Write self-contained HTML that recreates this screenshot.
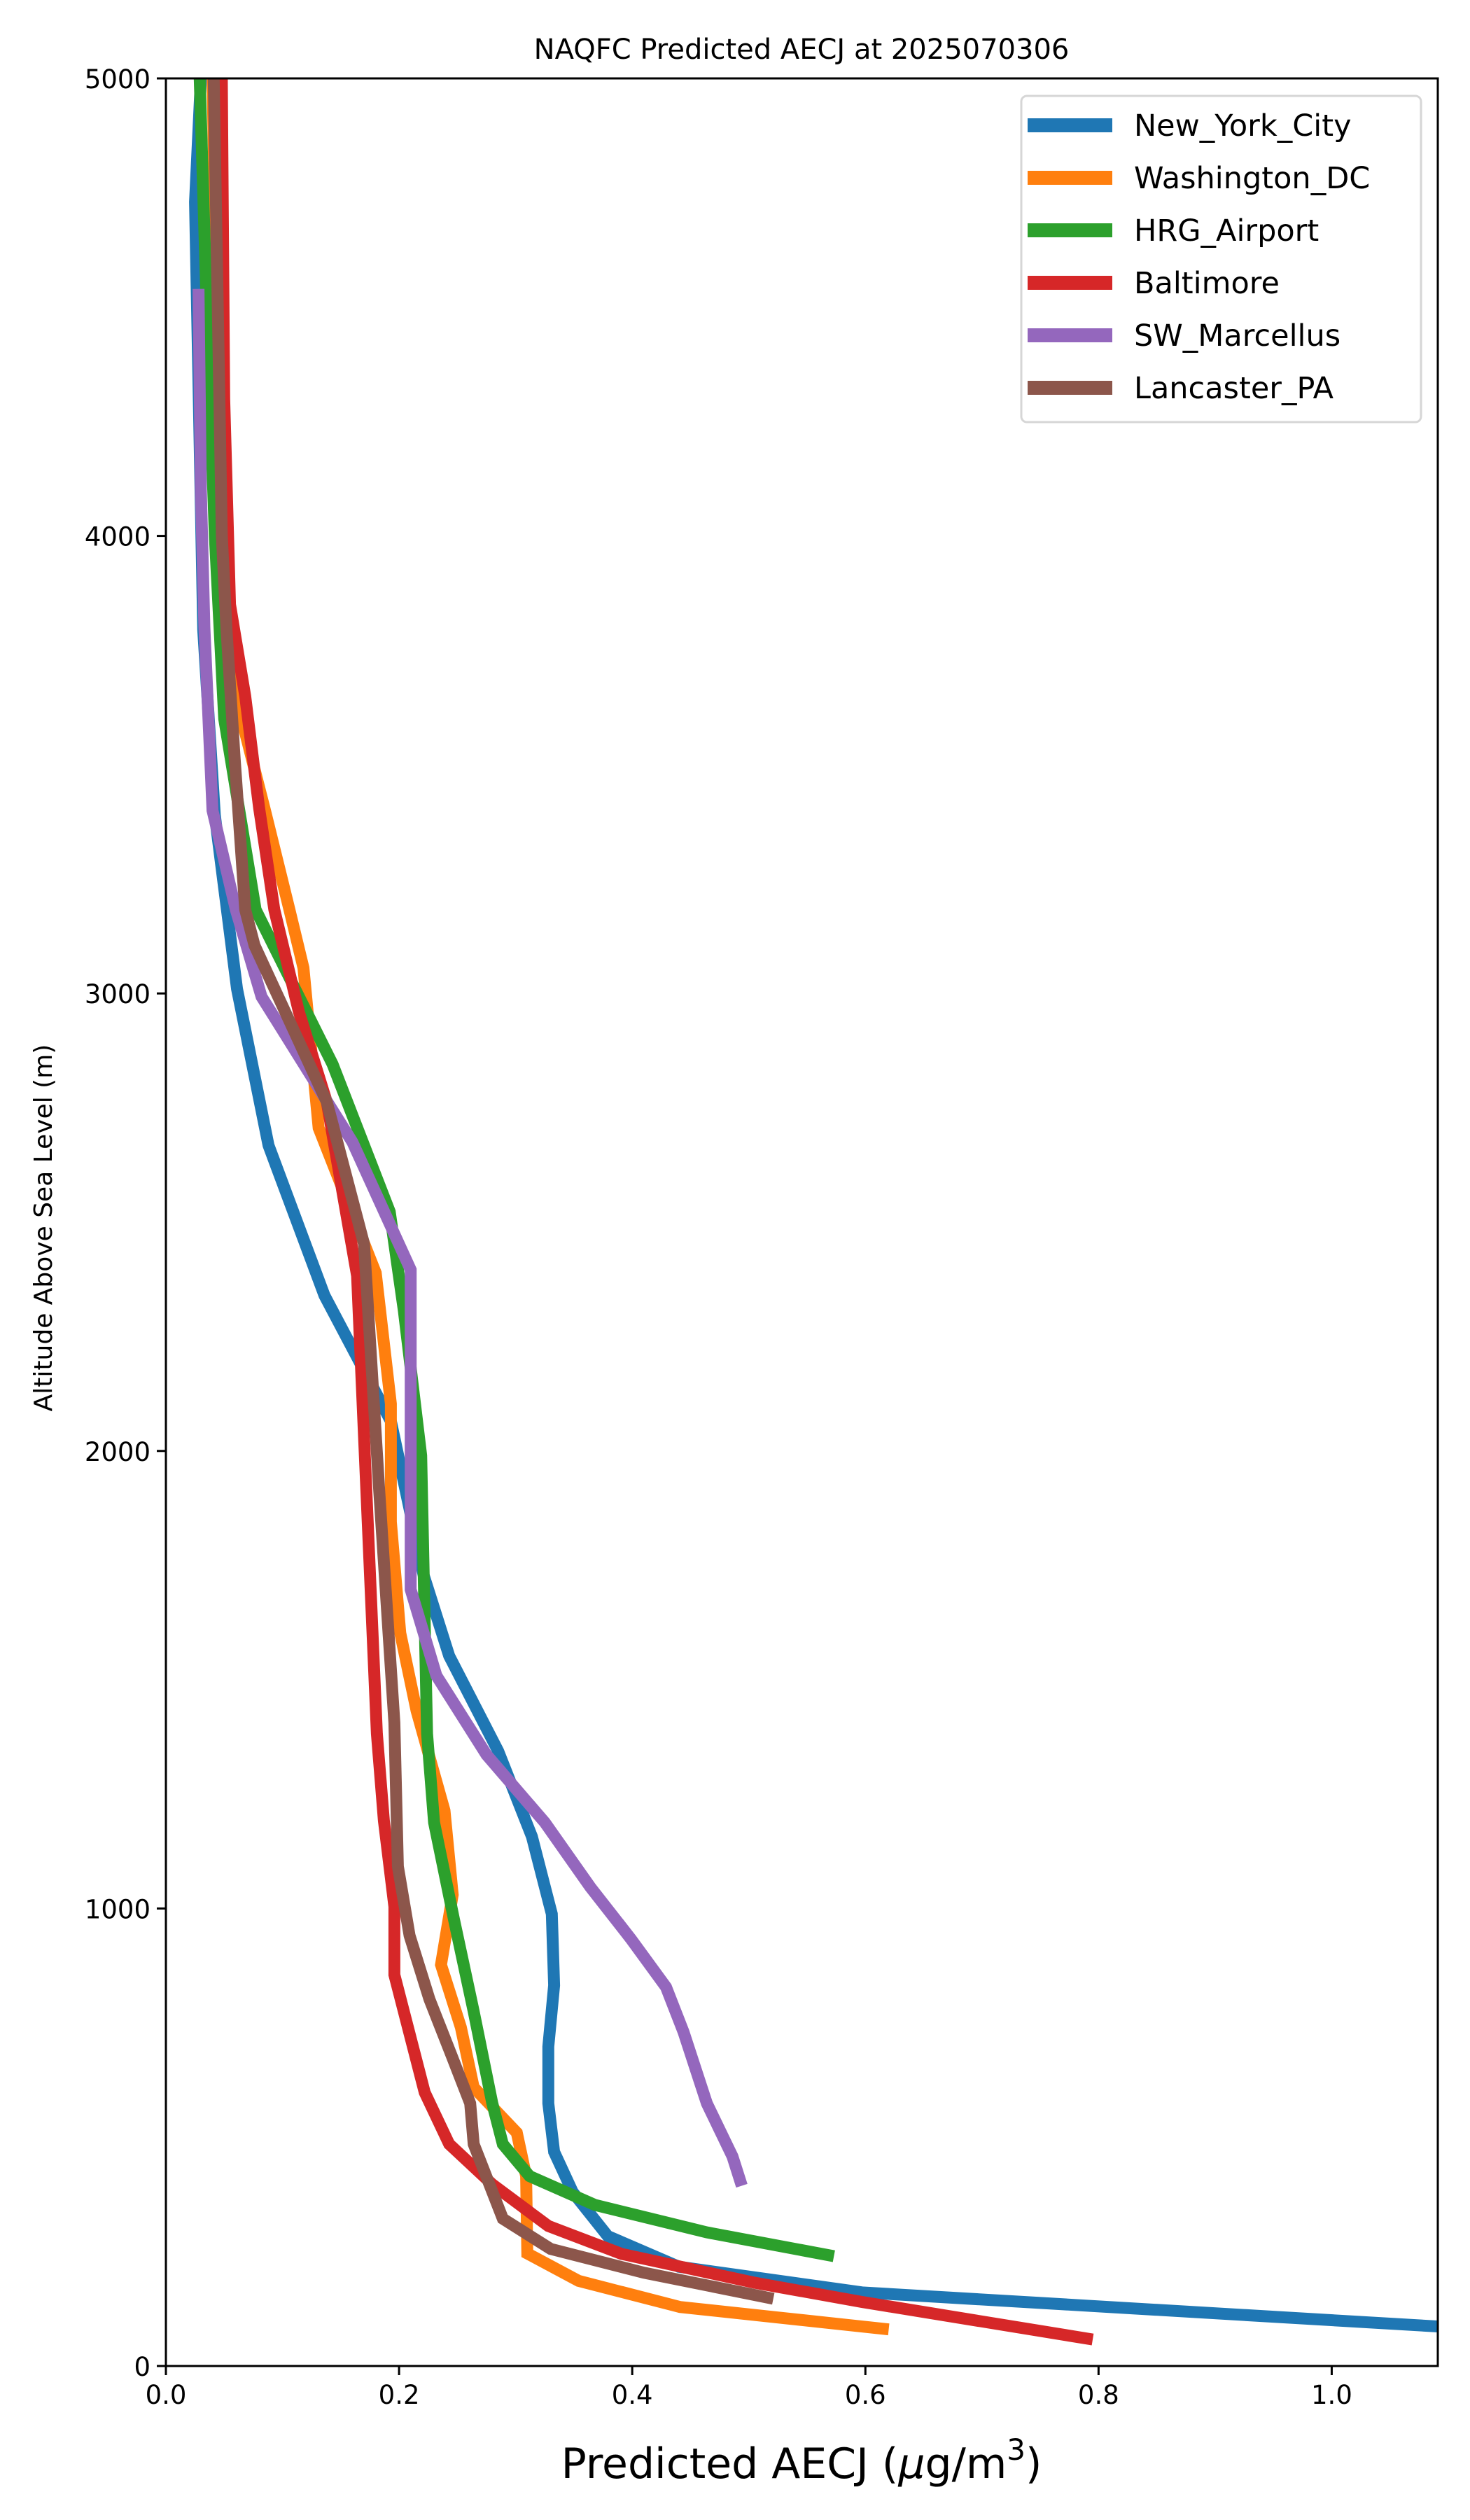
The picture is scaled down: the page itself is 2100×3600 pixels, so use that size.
<!DOCTYPE html>
<html><head><meta charset="utf-8"><style>
html,body{margin:0;padding:0;background:#fff;}
svg{display:block;font-family:"DejaVu Sans","Liberation Sans",sans-serif;}
</style></head><body>
<svg id="chart" width="2100" height="3600" viewBox="0 0 2100 3600" xmlns="http://www.w3.org/2000/svg">
<rect width="2100" height="3600" fill="#fff"/>
<defs><clipPath id="plotclip"><rect x="237" y="112" width="1817" height="3268"/></clipPath></defs>
<text x="1145" y="84" text-anchor="middle" font-size="40">NAQFC Predicted AECJ at 2025070306</text>
<g id="series" clip-path="url(#plotclip)"></g>
<g id="axes"></g>
<text x="1145" y="3540" text-anchor="middle" font-size="60">Predicted AECJ (<tspan font-style="italic">μ</tspan>g/m<tspan font-size="42" dy="-26">3</tspan><tspan dy="26">)</tspan></text>
<text x="0" y="0" transform="translate(74,1754) rotate(-90)" text-anchor="middle" font-size="36">Altitude Above Sea Level (m)</text>
<g id="legend"></g>
</svg>
<script>
const seriesNames = ["New_York_City","Washington_DC","HRG_Airport","Baltimore","SW_Marcellus","Lancaster_PA"];
const seriesColors = ["#1f77b4","#ff7f0e","#2ca02c","#d62728","#9467bd","#8c564b"];
const nycX = [0.030,0.025,0.032,0.042,0.061,0.088,0.136,0.193,0.221,0.243,0.285,0.314,0.331,0.333,0.328,0.328,0.333,0.349,0.379,0.440,0.597,1.12];
const nycY = [5000,4730,3795,3390,3010,2668,2340,2065,1729,1552,1344,1157,988,832,698,574,468,380,284,217,161,82];
const dcX = [0.040,0.045,0.050,0.065,0.085,0.106,0.118,0.131,0.180,0.193,0.193,0.201,0.215,0.239,0.246,0.236,0.253,0.264,0.301,0.309,0.310,0.354,0.441,0.620];
const dcY = [5000,4300,3900,3600,3400,3183,3056,2706,2389,2103,1845,1602,1432,1214,1030,877,740,609,510,415,246,186,129,80];
const hrgX = [0.029,0.035,0.042,0.050,0.077,0.143,0.192,0.204,0.219,0.224,0.230,0.247,0.264,0.280,0.289,0.312,0.368,0.464,0.573];
const hrgY = [5000,4500,4000,3600,3183,2845,2523,2308,1990,1382,1188,977,775,574,485,415,352,292,240];
const balX = [0.048,0.050,0.055,0.068,0.080,0.093,0.114,0.138,0.164,0.181,0.187,0.196,0.196,0.222,0.243,0.280,0.328,0.391,0.505,0.597,0.795];
const balY = [5000,4300,3850,3650,3405,3183,2960,2763,2383,1382,1192,1004,855,598,485,397,306,245,182,140,58];
const swmX = [0.028,0.030,0.033,0.040,0.060,0.082,0.160,0.210,0.210,0.210,0.232,0.275,0.325,0.364,0.399,0.429,0.444,0.464,0.486,0.494];
const swmY = [4540,4100,3800,3400,3183,2993,2675,2396,2141,1697,1509,1336,1188,1047,933,828,730,574,458,394];
const lanX = [0.041,0.048,0.052,0.059,0.068,0.076,0.138,0.170,0.183,0.196,0.199,0.209,0.226,0.245,0.261,0.264,0.289,0.330,0.410,0.521];
const lanY = [5000,4000,3795,3512,3183,3105,2763,2452,1912,1406,1092,941,802,679,574,485,322,256,204,147];
const xTicks = [0.0,0.2,0.4,0.6,0.8,1.0];
const xTickLabels = ["0.0","0.2","0.4","0.6","0.8","1.0"];
const yTicks = [0,1000,2000,3000,4000,5000];
const yTickLabels = ["0","1000","2000","3000","4000","5000"];

const NS="http://www.w3.org/2000/svg";
const L=237,R=2054,T=112,B=3380,XMAX=1.091,YMAX=5000;
function sx(v){return L+(v/XMAX)*(R-L);}
function sy(v){return B-(v/YMAX)*(B-T);}
function mk(tag,attrs,parent){const e=document.createElementNS(NS,tag);for(const k in attrs)e.setAttribute(k,attrs[k]);parent.appendChild(e);return e;}

const allX=[nycX,dcX,hrgX,balX,swmX,lanX], allY=[nycY,dcY,hrgY,balY,swmY,lanY];
const sg=document.getElementById('series');
const slug=["new-york-city","washington-dc","hrg-airport","baltimore","sw-marcellus","lancaster-pa"];
for(let i=0;i<6;i++){
  const pts=allX[i].map((x,j)=>sx(x).toFixed(1)+","+sy(allY[i][j]).toFixed(1)).join(" ");
  const p=mk('polyline',{points:pts,fill:"none",stroke:seriesColors[i],"stroke-width":17,"stroke-linejoin":"miter","stroke-miterlimit":2},sg);
  
  
}
const ax=document.getElementById('axes');
const frame=mk('rect',{x:L,y:T,width:R-L,height:B-T,fill:"none",stroke:"#000","stroke-width":3},ax);


xTicks.forEach((v,i)=>{
  const t=mk('line',{x1:sx(v),x2:sx(v),y1:B,y2:B+13,stroke:"#000","stroke-width":3},ax);
  
  
  const tx=mk('text',{x:sx(v),y:B+54,"text-anchor":"middle","font-size":37},ax);
  tx.textContent=xTickLabels[i];
  
  
});
yTicks.forEach((v,i)=>{
  const t=mk('line',{x1:L-13,x2:L,y1:sy(v),y2:sy(v),stroke:"#000","stroke-width":3},ax);
  
  
  const tx=mk('text',{x:L-22,y:sy(v)+14,"text-anchor":"end","font-size":37},ax);
  tx.textContent=yTickLabels[i];
  
  
});
const lg=document.getElementById('legend');
const box=mk('rect',{x:1459,y:137,width:571,height:466,rx:8,fill:"#fff","fill-opacity":0.8,stroke:"#d6d6d6","stroke-width":3},lg);


seriesNames.forEach((n,i)=>{
  const cy=179+i*75;
  const ln=mk('line',{x1:1468,x2:1589,y1:cy,y2:cy,stroke:seriesColors[i],"stroke-width":20},lg);
  
  
  const tx=mk('text',{x:1620,y:cy+15,"font-size":43},lg);
  tx.textContent=n;
  
  
});
</script>
</body></html>
